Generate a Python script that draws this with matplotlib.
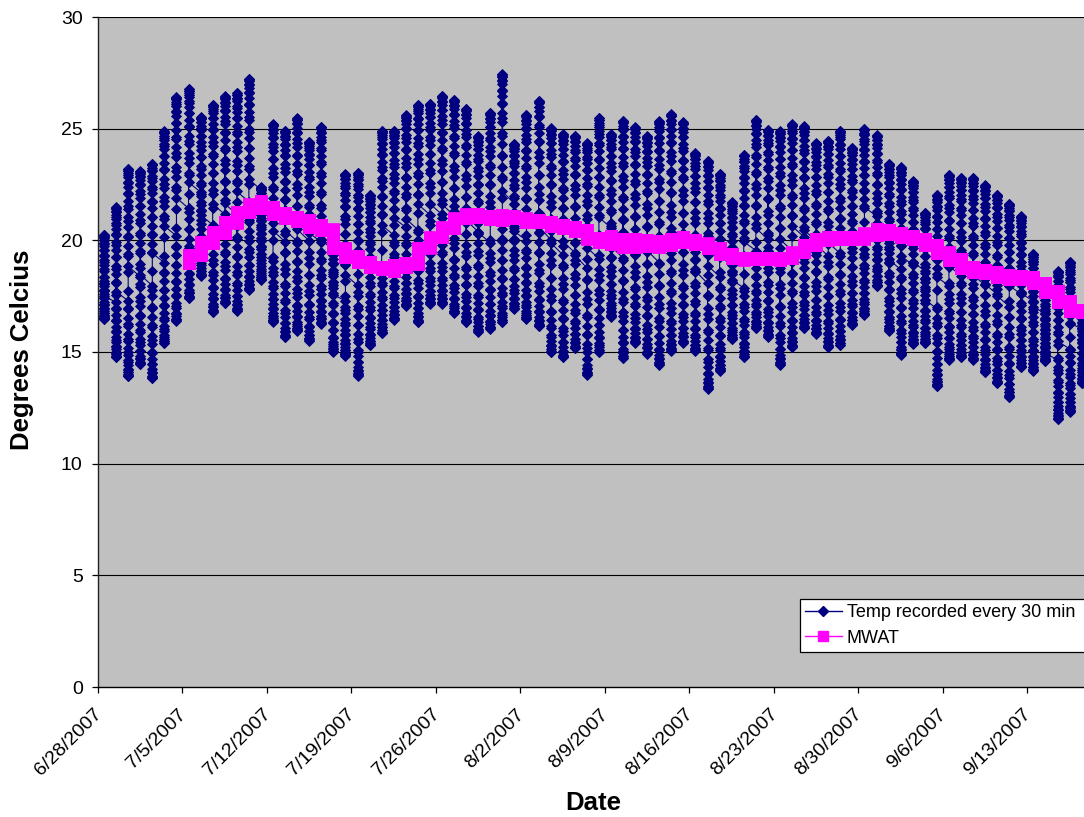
import numpy as np
import pandas as pd
import matplotlib
matplotlib.use("Agg")
import matplotlib.pyplot as plt
from matplotlib.lines import Line2D
from matplotlib.transforms import ScaledTranslation

# ---------------- data ----------------
start_date = "6/28/2007"

# daily maximum / minimum of the 30-minute temperature record, 6/28 .. 9/18
daily_max = [20.26, 21.48, 23.21, 23.09, 23.44, 24.88, 26.41, 26.78, 25.51, 26.08,
             26.45, 26.60, 27.23, 22.38, 25.21, 24.91, 25.48, 24.41, 25.08, 20.30,
             22.97, 23.02, 22.05, 24.91, 24.91, 25.60, 26.08, 26.11, 26.48, 26.30,
             25.90, 24.66, 25.71, 27.45, 24.32, 25.63, 26.26, 25.03, 24.74, 24.69,
             24.36, 25.48, 24.74, 25.36, 25.08, 24.66, 25.33, 25.66, 25.30, 23.91,
             23.57, 22.97, 21.71, 23.84, 25.41, 24.96, 24.88, 25.21, 25.11, 24.36,
             24.47, 24.91, 24.14, 25.00, 24.71, 23.42, 23.27, 22.65, 21.23, 22.05,
             22.94, 22.80, 22.80, 22.47, 22.05, 21.63, 21.08, 19.39, 17.90, 18.62,
             19.03, 16.90]
daily_min = [16.48, 14.76, 13.91, 14.46, 13.82, 15.40, 16.40, 17.40, 18.42, 16.78,
             17.18, 16.85, 17.78, 18.24, 16.36, 15.66, 15.96, 15.51, 16.26, 15.02,
             14.84, 13.94, 15.31, 15.84, 16.45, 17.08, 16.33, 17.15, 17.15, 16.75,
             16.33, 15.91, 16.03, 16.33, 16.93, 16.48, 16.15, 14.99, 14.76, 15.17,
             13.97, 14.99, 16.58, 14.72, 15.40, 14.91, 14.42, 15.06, 15.40, 15.06,
             13.34, 14.17, 15.58, 14.76, 16.06, 15.69, 14.42, 15.21, 16.06, 15.81,
             15.21, 15.31, 16.21, 16.66, 17.94, 15.96, 14.87, 15.36, 15.40, 13.46,
             14.66, 14.76, 14.66, 14.09, 13.61, 12.97, 14.31, 14.17, 14.60, 12.00,
             12.33, 13.59]

# MWAT (7-day moving average) - low / high value reached within each day, 7/5 .. 9/18
mwat_start_date = "7/5/2007"
mwat_low = [18.97, 19.34, 19.89, 20.31, 20.79, 21.28, 21.43, 21.16, 20.98, 20.88,
            20.61, 20.46, 19.64, 19.26, 19.04, 18.79, 18.70, 18.62, 18.82, 18.94,
            19.67, 20.16, 20.56, 20.98, 21.06, 20.95, 20.91, 20.98, 20.83, 20.80,
            20.65, 20.53, 20.43, 20.08, 19.91, 19.83, 19.71, 19.71, 19.76, 19.71,
            19.79, 19.94, 19.83, 19.64, 19.38, 19.22, 19.14, 19.16, 19.16, 19.11,
            19.22, 19.49, 19.79, 20.01, 20.04, 20.04, 20.08, 20.23, 20.28, 20.16,
            20.04, 19.79, 19.44, 19.11, 18.74, 18.59, 18.52, 18.34, 18.26, 18.26,
            18.10, 17.70, 17.25, 16.83, 16.77]
mwat_high = [19.34, 19.94, 20.38, 20.83, 21.28, 21.61, 21.76, 21.50, 21.23, 21.06,
             20.91, 20.68, 20.49, 19.64, 19.31, 19.04, 18.82, 18.89, 18.97, 19.67,
             20.13, 20.58, 20.98, 21.16, 21.16, 21.10, 21.13, 21.10, 20.98, 20.91,
             20.83, 20.68, 20.58, 20.46, 20.11, 20.19, 20.08, 20.08, 20.01, 19.97,
             20.06, 20.16, 20.01, 19.86, 19.64, 19.41, 19.23, 19.23, 19.23, 19.22,
             19.46, 19.79, 20.06, 20.16, 20.16, 20.16, 20.31, 20.50, 20.46, 20.31,
             20.19, 20.08, 19.79, 19.46, 19.16, 18.82, 18.67, 18.59, 18.44, 18.41,
             18.37, 18.11, 17.73, 17.28, 16.88]

tick_labels = ["6/28/2007", "7/5/2007", "7/12/2007", "7/19/2007", "7/26/2007",
               "8/2/2007", "8/9/2007", "8/16/2007", "8/23/2007", "8/30/2007",
               "9/6/2007", "9/13/2007"]
y_ticks = [0, 5, 10, 15, 20, 25, 30]

series_names = ["Temp recorded every 30 min", "MWAT"]

# ---------------- build half-hourly record (Excel date axis: all readings of a day share one x) ----------------
t0 = pd.to_datetime(start_date, format="%m/%d/%Y")
n_days = len(daily_max)
hours = np.arange(48) * 0.5
x_temp, y_temp = [], []
for k in range(n_days):
    mn, mx = daily_min[k], daily_max[k]
    prev_mx = daily_max[k - 1] if k > 0 else mx
    next_mn = daily_min[k + 1] if k < n_days - 1 else mn
    vals = []
    for h in hours:
        if h < 7:
            ph = (h + 8) / 15.0
            v = mn + (prev_mx - mn) * (1 + np.cos(np.pi * ph)) / 2
        elif h <= 16:
            v = mn + (mx - mn) * (1 - np.cos(np.pi * (h - 7) / 9.0)) / 2
        else:
            ph = (h - 16) / 15.0
            v = next_mn + (mx - next_mn) * (1 + np.cos(np.pi * ph)) / 2
        vals.append(v)
    x_temp.extend([k + 0.5] * 48)
    y_temp.extend(vals)

m0 = (pd.to_datetime(mwat_start_date, format="%m/%d/%Y") - t0).days
x_mw, y_mw = [], []
n_mw = len(mwat_low)
for j in range(n_mw):
    lo, hi = mwat_low[j], mwat_high[j]
    mid = (lo + hi) / 2
    nxt = (mwat_low[j + 1] + mwat_high[j + 1]) / 2 if j < n_mw - 1 else mid
    a, b = (lo, hi) if nxt >= mid else (hi, lo)
    x_mw.extend([m0 + j + 0.5] * 48)
    y_mw.extend(np.linspace(a, b, 48))

tick_pos = [(pd.to_datetime(s, format="%m/%d/%Y") - t0).days for s in tick_labels]

# ---------------- figure ----------------
W, H = 1084, 817
fig = plt.figure(figsize=(W / 100, H / 100), dpi=100)
fig.patch.set_facecolor("white")
px_per_day = 12.07
ax = fig.add_axes([98 / W, (H - 687) / H, 82 * px_per_day / W, 670 / H])
ax.set_facecolor("#C0C0C0")

ax.set_xlim(0, 82)
ax.set_ylim(0, 30)

for yv in y_ticks[1:]:
    ax.axhline(yv, color="black", lw=0.8, zorder=1)

navy = "#000080"
magenta = "#FF00FF"
ax.plot(x_temp, y_temp, color=navy, lw=0.8, marker="D", ms=5.6, mfc=navy,
        mec=navy, mew=0.6, zorder=3, clip_on=True)
ax.plot(x_mw, y_mw, color=magenta, lw=0.8, marker="s", ms=8.0, mfc=magenta,
        mec=magenta, mew=0.5, zorder=4)

for s in ["top", "right"]:
    ax.spines[s].set_visible(False)
ax.spines["left"].set_color("#222222")
ax.spines["bottom"].set_color("black")
ax.spines["left"].set_linewidth(1.0)
ax.spines["bottom"].set_linewidth(1.0)
ax.spines["left"].set_zorder(5)
ax.spines["bottom"].set_zorder(5)

font = "Liberation Sans"
ax.set_yticks(y_ticks)
ax.set_yticklabels([str(v) for v in y_ticks], fontsize=14, family=font)
ax.tick_params(axis="y", length=4.5, width=0.9, pad=6.5, direction="out", color="black")
ax.set_xticks(tick_pos)
ax.set_xticklabels(tick_labels, rotation=45, ha="right", va="top",
                   rotation_mode="anchor", fontsize=14, family=font)
ax.tick_params(axis="x", length=4.5, width=0.9, pad=9, direction="out", color="black")
shift = ScaledTranslation(-5 / 100, 0, fig.dpi_scale_trans)
for lbl in ax.get_xticklabels():
    lbl.set_transform(lbl.get_transform() + shift)

fig.text(22 / W, 1 - 350 / H, "Degrees Celcius", rotation=90, ha="center", va="center",
         fontsize=18.5, fontweight="bold", family=font)
fig.text(593 / W, 1 - 803 / H, "Date", ha="center", va="center",
         fontsize=18.5, fontweight="bold", family=font)

handles = [Line2D([], [], color=navy, lw=1, marker="D", ms=5, mfc=navy, mec=navy),
           Line2D([], [], color=magenta, lw=1, marker="s", ms=7, mfc=magenta, mec=magenta)]
leg = fig.legend(handles, series_names, loc="upper left",
                 bbox_to_anchor=(800 / W, 1 - 653 / H, 300 / W, 54 / H),
                 bbox_transform=fig.transFigure, mode="expand",
                 prop={"family": font, "size": 13}, frameon=True, fancybox=False,
                 shadow=False, borderpad=0.3, handlelength=2.0, handletextpad=0.3,
                 labelspacing=0.45, borderaxespad=0, numpoints=1)
leg.get_frame().set_edgecolor("black")
leg.get_frame().set_linewidth(0.9)
leg.get_frame().set_facecolor("white")
leg.get_frame().set_alpha(1)

fig.savefig("out.png", dpi=100)
